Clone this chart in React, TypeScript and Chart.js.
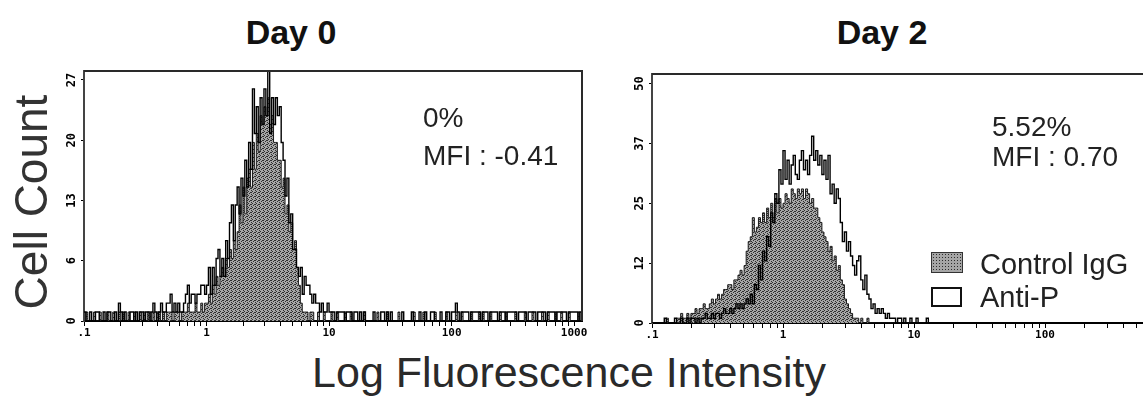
import React, { useEffect, useRef } from 'react';
import { Chart, registerables } from 'chart.js';

Chart.register(...registerables);

// ---------- axis definitions ----------
const CHANNELS_PER_DECADE = 64;
const X_START = 0.1;
const X_MAJOR_TICKS = [0.1, 1, 10, 100, 1000];
const X_TICK_LABELS = ['.1', '1', '10', '100', '1000'];
const X_MINOR_MULTIPLIERS = [2, 3, 4, 5, 6, 7, 8, 9];

const DAY0_Y_TICKS = [0, 6.75, 13.5, 20.25, 27];
const DAY0_Y_LABELS = ['0', '6', '13', '20', '27'];
const DAY2_Y_TICKS = [0, 12.5, 25, 37.5, 50];
const DAY2_Y_LABELS = ['0', '12', '25', '37', '50'];

// ---------- text ----------
const PANEL_TITLES = ['Day 0', 'Day 2'];
const SERIES_NAMES = ['Control IgG', 'Anti-P'];
const PERCENT_POSITIVE = ['0%', '5.52%'];
const MFI_VALUES = ['-0.41', '0.70'];
const Y_TITLE = 'Cell Count';
const X_TITLE = 'Log Fluorescence Intensity';

// ---------- histogram counts (one value per channel, 64 channels per decade from 0.1) ----------
const DAY0_ANTI_P = [
  1, 0, 0, 1, 0, 0, 1, 1, 0, 0, 1, 0, 1, 1, 0, 0,
  1, 0, 2, 1, 0, 1, 0, 0, 1, 1, 0, 1, 0, 1, 1, 0,
  1, 1, 0, 1, 2, 1, 0, 1, 2, 1, 1, 2, 2, 3, 1, 2,
  1, 2, 1, 1, 2, 3, 4, 2, 3, 3, 2, 3, 3, 4, 4, 3,
  4, 6, 3, 6, 4, 7, 8, 5, 7, 5, 9, 7, 11, 13, 9, 13,
  15, 12, 16, 14, 18, 15, 20, 17, 26, 21, 24, 20, 25, 22, 26, 23,
  30, 21, 25, 22, 25, 23, 24, 20, 18, 14, 16, 11, 12, 8, 8, 6,
  5, 6, 3, 5, 4, 4, 3, 2, 3, 2, 2, 1, 2, 1, 1, 2,
  1, 1, 1, 0, 1, 1, 1, 1, 0, 1, 1, 1, 0, 1, 1, 0,
  1, 0, 1, 0, 0, 0, 0, 1, 0, 0, 0, 1, 1, 0, 1, 0,
  1, 0, 0, 0, 0, 0, 1, 0, 0, 0, 0, 1, 0, 0, 0, 1,
  0, 0, 1, 0, 0, 1, 1, 0, 0, 0, 1, 0, 0, 1, 1, 0,
  1, 1, 2, 1, 0, 1, 1, 1, 1, 0, 1, 1, 1, 1, 1, 0,
  1, 1, 1, 0, 1, 1, 1, 1, 0, 1, 1, 1, 0, 1, 1, 1,
  1, 1, 0, 1, 1, 1, 1, 0, 1, 1, 1, 1, 0, 1, 1, 1,
  1, 0, 1, 1, 1, 1, 0, 1, 1, 1, 1, 1, 0, 1, 1, 1,
  1, 1, 0, 1,
];

const DAY0_CONTROL = [
  0, 1, 0, 0, 0, 1, 0, 0, 1, 0, 0, 0, 1, 0, 0, 1,
  0, 0, 1, 0, 1, 0, 0, 1, 0, 0, 1, 0, 0, 1, 0, 1,
  0, 1, 1, 0, 1, 0, 1, 1, 0, 1, 0, 1, 1, 1, 0, 1,
  1, 1, 0, 1, 1, 1, 2, 1, 1, 1, 2, 1, 1, 2, 1, 2,
  2, 3, 2, 4, 3, 5, 4, 5, 6, 5, 7, 6, 8, 7, 9, 8,
  10, 13, 11, 15, 12, 16, 17, 15, 20, 17, 21, 19, 23, 22, 24, 23,
  25, 22, 23, 20, 20, 18, 18, 15, 16, 12, 13, 10, 11, 8, 9, 6,
  4, 2, 1, 1, 1, 0, 1, 1, 0, 0, 1, 0, 0, 1, 0, 0,
  0, 1, 0, 0, 1, 0, 0, 0, 1, 0, 0, 1, 0, 0, 0, 0,
  0, 0, 1, 0, 0, 0, 0, 0, 0, 1, 0, 0, 0, 0, 1, 0,
  0, 0, 0, 0, 1, 0, 0, 0, 0, 0, 0, 0, 1, 0, 0, 0,
  0, 1, 0, 0, 0, 0, 0, 1, 0, 0, 0, 0, 0, 1, 0, 0,
  0, 0, 1, 0, 0, 1, 0, 0, 0, 0, 1, 0, 0, 0, 1, 0,
  1, 0, 0, 0, 1, 0, 0, 0, 0, 1, 0, 0, 1, 0, 0, 0,
  0, 1, 0, 0, 0, 0, 1, 0, 0, 0, 1, 0, 0, 0, 0, 1,
  0, 0, 1, 0, 0, 0, 1, 0, 0, 1, 0, 0, 0, 1, 0, 0,
  0, 0, 1, 0,
];

const DAY2_ANTI_P = [
  0, 0, 0, 0, 0, 0, 1, 0, 0, 0, 0, 1, 0, 0, 1, 0,
  0, 1, 0, 1, 1, 0, 1, 0, 1, 1, 2, 1, 1, 2, 1, 2,
  2, 1, 2, 3, 2, 2, 3, 2, 3, 4, 3, 4, 3, 4, 5, 4,
  6, 4, 8, 7, 12, 9, 15, 13, 18, 16, 23, 21, 27, 25, 32, 29,
  36, 30, 34, 29, 33, 35, 31, 30, 34, 36, 32, 34, 31, 35, 39, 34,
  36, 33, 35, 31, 34, 30, 35, 27, 29, 25, 28, 26, 21, 17, 19, 15,
  17, 14, 12, 10, 13, 14, 9, 7, 10, 6, 5, 3, 4, 2, 3, 2,
  3, 2, 1, 2, 1, 1, 1, 0, 1, 1, 0, 1, 0, 0, 1, 0,
  0, 1, 0, 0, 0, 0, 1, 0,
];

const DAY2_CONTROL = [
  0, 0, 0, 0, 0, 0, 0, 1, 0, 0, 0, 0, 1, 1, 2, 1,
  1, 2, 1, 2, 2, 3, 2, 3, 3, 4, 3, 3, 4, 5, 4, 5,
  6, 5, 6, 7, 7, 8, 8, 7, 9, 9, 10, 11, 10, 12, 15, 17,
  18, 22, 19, 20, 22, 21, 23, 21, 24, 22, 25, 22, 26, 23, 26, 24,
  25, 27, 26, 25, 28, 27, 26, 28, 27, 28, 26, 28, 27, 25, 26, 24,
  24, 22, 21, 19, 18, 17, 15, 16, 13, 14, 11, 12, 9, 8, 5, 4,
  3, 2, 1, 1, 1, 0, 1, 0, 0, 1, 0, 0, 0, 0, 0, 0,
  0, 0, 0, 0, 0, 0, 0, 0, 0, 0, 0, 0, 0, 0, 0, 0,
  0, 0, 0, 0, 0, 0, 0, 0,
];

// ---------- helpers ----------
function channelPoints(counts: number[]) {
  const pts = counts.map((c, i) => ({ x: X_START * Math.pow(10, i / CHANNELS_PER_DECADE), y: c }));
  pts.push({ x: X_START * Math.pow(10, counts.length / CHANNELS_PER_DECADE), y: 0 });
  return pts;
}

function xTickValues(max: number) {
  const vals: number[] = [];
  X_MAJOR_TICKS.forEach((d, i) => {
    vals.push(d);
    if (i < X_MAJOR_TICKS.length - 1) X_MINOR_MULTIPLIERS.forEach((m) => vals.push(d * m));
  });
  return vals.filter((v) => v <= max * 1.0001);
}

const panelDecor = {
  id: 'panelDecor',
  afterDraw(chart: any, _args: any, opts: any) {
    const { ctx, chartArea: a } = chart;
    const y = chart.scales.y;
    ctx.save();
    ctx.strokeStyle = '#2a2a2a';
    ctx.lineWidth = 2;
    ctx.beginPath();
    ctx.moveTo(a.left, a.top);
    ctx.lineTo(a.right, a.top);
    ctx.lineTo(a.right, a.bottom);
    ctx.stroke();
    ctx.fillStyle = '#000';
    ctx.font = 'bold 12px "DejaVu Sans Mono", monospace';
    ctx.textAlign = 'center';
    ctx.textBaseline = 'middle';
    y.ticks.forEach((t: any, i: number) => {
      const py = y.getPixelForValue(t.value);
      ctx.save();
      ctx.translate(a.left - 12, py);
      ctx.rotate(-Math.PI / 2);
      ctx.fillText(opts.labels[i] ?? '', 0, 0);
      ctx.restore();
    });
    ctx.restore();
  },
};

function makePattern(target: CanvasRenderingContext2D) {
  const tile = document.createElement('canvas');
  tile.width = 4;
  tile.height = 4;
  const t = tile.getContext('2d')!;
  t.fillStyle = '#a6a6a6';
  t.fillRect(0, 0, 4, 4);
  t.fillStyle = '#2e2e2e';
  [[0, 0], [2, 1], [1, 2], [3, 3], [3, 1]].forEach(([px, py]) => t.fillRect(px, py, 1, 1));
  return target.createPattern(tile, 'repeat');
}

type PanelCfg = {
  antiP: number[];
  control: number[];
  xMax: number;
  yMax: number;
  yTicks: number[];
  yLabels: string[];
  padRight: number;
  xAxisHeight: number;
};

function makePanel(canvas: HTMLCanvasElement, cfg: PanelCfg) {
  const ctx = canvas.getContext('2d')!;
  const pattern = makePattern(ctx);
  const ticks = xTickValues(cfg.xMax);
  return new Chart(canvas, {
    type: 'line',
    data: {
      datasets: [
        {
          label: SERIES_NAMES[1],
          data: channelPoints(cfg.antiP),
          stepped: true,
          borderColor: '#000',
          borderWidth: 1.4,
          pointRadius: 0,
          fill: false,
        },
        {
          label: SERIES_NAMES[0],
          data: channelPoints(cfg.control),
          stepped: true,
          borderColor: '#1a1a1a',
          borderWidth: 1,
          pointRadius: 0,
          fill: 'origin',
          backgroundColor: pattern as any,
        },
      ],
    } as any,
    options: {
      responsive: false,
      animation: false,
      devicePixelRatio: 1,
      events: [],
      layout: { padding: { left: 0, top: 16, right: cfg.padRight, bottom: 0 } },
      plugins: {
        legend: { display: false },
        tooltip: { enabled: false },
        panelDecor: { labels: cfg.yLabels },
      } as any,
      scales: {
        x: {
          type: 'logarithmic',
          min: X_START,
          max: cfg.xMax,
          bounds: 'data',
          afterBuildTicks: (s: any) => {
            s.ticks = ticks.map((v) => ({ value: v }));
          },
          afterFit: (s: any) => {
            s.height = cfg.xAxisHeight;
          },
          ticks: {
            autoSkip: false,
            maxRotation: 0,
            minRotation: 0,
            padding: 1,
            color: '#000',
            font: { family: '"DejaVu Sans Mono", monospace', size: 11, weight: 'bold' },
            callback: (v: any) => {
              const i = X_MAJOR_TICKS.indexOf(Number(v));
              return i >= 0 ? X_TICK_LABELS[i] : '';
            },
          },
          grid: { display: true, drawOnChartArea: false, drawTicks: true, tickLength: 5, color: '#000', lineWidth: 1 },
          border: { display: true, color: '#000', width: 2 },
        },
        y: {
          type: 'linear',
          min: 0,
          max: cfg.yMax,
          bounds: 'data',
          afterBuildTicks: (s: any) => {
            s.ticks = cfg.yTicks.map((v) => ({ value: v }));
          },
          afterFit: (s: any) => {
            s.width = 44;
          },
          ticks: { display: false, callback: (_v: any, i: number) => cfg.yLabels[i] },
          grid: { display: true, drawOnChartArea: false, drawTicks: true, tickLength: 3, color: '#000', lineWidth: 1 },
          border: { display: true, color: '#444', width: 2 },
        },
      } as any,
    },
    plugins: [panelDecor as any],
  });
}

const FONT = '"Liberation Sans", Arial, Helvetica, sans-serif';

function Txt(props: { text: string; x: number; baseline: number; size: number; bold?: boolean; center?: boolean; color?: string }) {
  const { text, x, baseline, size, bold, center, color } = props;
  return (
    <div
      style={{
        position: 'absolute',
        left: x,
        top: baseline - 0.8465 * size,
        fontSize: size,
        lineHeight: `${size}px`,
        fontWeight: bold ? 700 : 400,
        fontFamily: FONT,
        color: color ?? '#222',
        whiteSpace: 'nowrap',
        transform: center ? 'translateX(-50%)' : undefined,
      }}
    >
      {text}
    </div>
  );
}

export default function App() {
  const c0 = useRef<HTMLCanvasElement>(null);
  const c2 = useRef<HTMLCanvasElement>(null);

  useEffect(() => {
    const ch0 = makePanel(c0.current!, {
      antiP: DAY0_ANTI_P,
      control: DAY0_CONTROL,
      xMax: 1160,
      yMax: 28,
      yTicks: DAY0_Y_TICKS,
      yLabels: DAY0_Y_LABELS,
      padRight: 18,
      xAxisHeight: 24,
    });
    const ch2 = makePanel(c2.current!, {
      antiP: DAY2_ANTI_P,
      control: DAY2_CONTROL,
      xMax: 1000,
      yMax: 52,
      yTicks: DAY2_Y_TICKS,
      yLabels: DAY2_Y_LABELS,
      padRight: 32,
      xAxisHeight: 25,
    });
    return () => {
      ch0.destroy();
      ch2.destroy();
    };
  }, []);

  return (
    <div
      style={{
        position: 'fixed',
        left: 0,
        top: 0,
        width: 1143,
        height: 398,
        overflow: 'hidden',
        background: '#fff',
      }}
    >
      <div style={{ position: 'absolute', left: 40, top: 55, width: 560, height: 290 }}>
        <canvas ref={c0} width={560} height={290} style={{ display: 'block' }} />
      </div>
      <div style={{ position: 'absolute', left: 608, top: 58, width: 600, height: 290 }}>
        <canvas ref={c2} width={600} height={290} style={{ display: 'block' }} />
      </div>

      <Txt text={PANEL_TITLES[0]} x={291} baseline={44} size={34} bold center color="#111" />
      <Txt text={PANEL_TITLES[1]} x={882} baseline={44} size={34} bold center color="#111" />

      <Txt text={PERCENT_POSITIVE[0]} x={423} baseline={128} size={28} />
      <Txt text={`MFI : ${MFI_VALUES[0]}`} x={423} baseline={166} size={28} />
      <Txt text={PERCENT_POSITIVE[1]} x={992} baseline={137} size={28} />
      <Txt text={`MFI : ${MFI_VALUES[1]}`} x={992} baseline={167} size={28} />

      <div
        style={{
          position: 'absolute',
          left: 931,
          top: 252,
          width: 30,
          height: 19,
          border: '1px solid #333',
          backgroundColor: '#a6a6a6',
          backgroundImage: 'radial-gradient(#2e2e2e 35%, transparent 40%)',
          backgroundSize: '3px 3px',
        }}
      />
      <Txt text={SERIES_NAMES[0]} x={980} baseline={275} size={29} />
      <div
        style={{
          position: 'absolute',
          left: 931,
          top: 287,
          width: 27,
          height: 16,
          border: '2.5px solid #111',
          background: '#fff',
        }}
      />
      <Txt text={SERIES_NAMES[1]} x={980} baseline={308} size={29} />

      <div
        style={{
          position: 'absolute',
          left: 31 - 150,
          top: 202 - 23,
          width: 300,
          height: 46,
          lineHeight: '46px',
          fontSize: 46,
          fontFamily: FONT,
          color: '#333',
          textAlign: 'center',
          whiteSpace: 'nowrap',
          transform: 'rotate(-90deg)',
        }}
      >
        {Y_TITLE}
      </div>
      <Txt text={X_TITLE} x={569} baseline={387} size={43} center color="#2a2a2a" />
    </div>
  );
}
